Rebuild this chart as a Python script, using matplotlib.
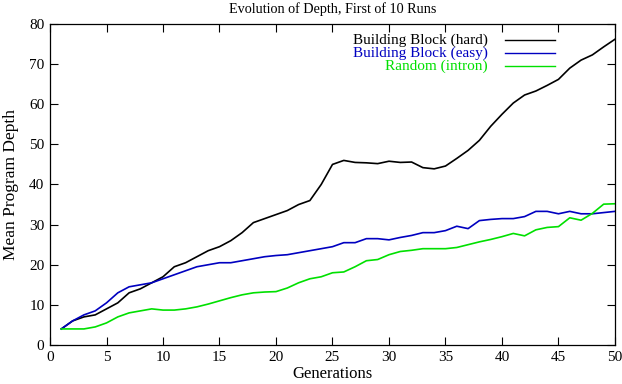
import matplotlib.pyplot as plt

# --- dados ---
geracoes = list(range(1, 51))

hard = [4, 6, 7, 7.5, 9, 10.5, 13, 14, 15.5, 17,
        19.5, 20.5, 22, 23.5, 24.5, 26, 28, 30.5, 31.5, 32.5,
        33.5, 35, 36, 40, 45, 46, 45.5, 45.4, 45.2, 45.8,
        45.5, 45.6, 44.2, 43.9, 44.6, 46.5, 48.5, 51, 54.5, 57.5,
        60.3, 62.3, 63.3, 64.7, 66.2, 69, 71, 72.3, 74.3, 76.2]

easy = [4, 6, 7.5, 8.5, 10.5, 13, 14.5, 15, 15.5, 16.5,
        17.5, 18.5, 19.5, 20, 20.5, 20.5, 21, 21.5, 22, 22.3,
        22.5, 23, 23.5, 24, 24.5, 25.5, 25.5, 26.5, 26.5, 26.2,
        26.8, 27.3, 28, 28, 28.5, 29.6, 29, 31, 31.3, 31.5,
        31.5, 32, 33.3, 33.3, 32.7, 33.3, 32.7, 32.7, 33, 33.3]

intron = [4, 4, 4, 4.5, 5.5, 7, 8, 8.5, 9, 8.7,
          8.7, 9, 9.5, 10.2, 11, 11.8, 12.5, 13, 13.2, 13.3,
          14.2, 15.5, 16.5, 17, 18, 18.2, 19.5, 21, 21.3, 22.5,
          23.3, 23.6, 24, 24, 24, 24.3, 25, 25.7, 26.3, 27,
          27.8, 27.2, 28.7, 29.3, 29.5, 31.7, 31.1, 32.8, 35.1, 35.2]

series = [
    ('Building Block (hard)', hard, 'black'),
    ('Building Block (easy)', easy, '#0000c0'),
    ('Random (intron)', intron, '#00e000'),
]

plt.rcParams['font.family'] = ['Liberation Serif', 'DejaVu Serif']
plt.rcParams['font.size'] = 10

fig = plt.figure(figsize=(6.22, 3.84), dpi=100)
ax = fig.add_axes([0.0804, 0.1016, 0.9083, 0.8359])

for nome, valores, cor in series:
    ax.plot(geracoes, valores, color=cor, linewidth=1.2)

ax.set_xlim(0, 50)
ax.set_ylim(0, 80)
ax.set_xticks(range(0, 51, 5))
ax.set_yticks(range(0, 81, 10))
ax.tick_params(direction='in', length=6, width=0.8, top=True, right=True,
               labelsize=11, pad=4)
for s in ax.spines.values():
    s.set_linewidth(0.9)

ax.set_title('Evolution of Depth, First of 10 Runs', fontsize=10.2, pad=8)
ax.set_xlabel('Generations', fontsize=12, labelpad=2)
ax.set_ylabel('Mean Program Depth', fontsize=12.5, labelpad=7)

# --- legenda estilo gnuplot (texto à direita alinhado, amostra depois) ---
for i, (nome, valores, cor) in enumerate(series):
    y = 0.950 - i * 0.041
    ax.text(0.775, y, nome, color=cor, ha='right', va='center',
            transform=ax.transAxes, fontsize=11)
    ax.plot([0.805, 0.894], [y, y], color=cor, linewidth=1.0,
            transform=ax.transAxes)

fig.savefig('out.png', dpi=100)
